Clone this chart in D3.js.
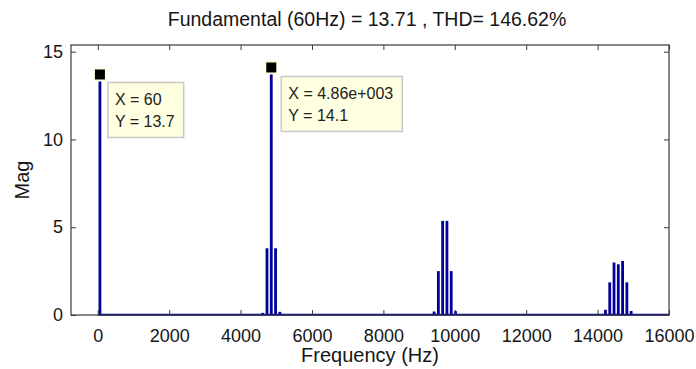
<!DOCTYPE html>
<html>
<head>
<meta charset="utf-8">
<script src="https://cdn.jsdelivr.net/npm/d3@7"></script>
<style>
  html, body { margin: 0; padding: 0; background: #fff; }
  svg { display: block; }
  text { font-family: "Liberation Sans", Arial, sans-serif; }
</style>
</head>
<body>
<svg id="chart" width="696" height="369"></svg>
<script>
// ---- data ----
const titleText = "Fundamental (60Hz) = 13.71 , THD= 146.62%";
const xLabel = "Frequency (Hz)";
const yLabel = "Mag";
const harmonicFreq = [60, 4620, 4740, 4860, 4980, 5100, 9420, 9540, 9660, 9780, 9900, 10020, 14220, 14340, 14460, 14580, 14700, 14820, 14940];
const harmonicMag  = [13.7, 0.12, 3.8, 14.1, 3.8, 0.18, 0.2, 2.5, 5.36, 5.36, 2.5, 0.22, 0.3, 1.86, 2.99, 2.89, 3.08, 1.86, 0.23];
const floorFreq = [0, 16000];
const floorMag = [0.02, 0.02];
const xTicks = [0, 2000, 4000, 6000, 8000, 10000, 12000, 14000, 16000];
const yTicks = [0, 5, 10, 15];
const tipX = [60, 4860];
const tipY = [13.7, 14.1];
const tipLines = [["X = 60", "Y = 13.7"], ["X = 4.86e+003", "Y = 14.1"]];

// ---- layout ----
const svg = d3.select("#chart");
const L = 71, R = 669, T = 45, B = 315;
const x = d3.scaleLinear().domain([-750, 16000]).range([L, R]);
const y = d3.scaleLinear().domain([0, 15.38]).range([B, T]);
const barColor = "#00009c";
const axisColor = "#3a3a3a";
const txtColor = "#161616";

// title
svg.append("text").attr("x", 367).attr("y", 26)
  .attr("text-anchor", "middle").attr("font-size", 19.5).attr("fill", txtColor)
  .text(titleText);

// baseline noise floor
svg.append("line")
  .attr("x1", x(floorFreq[0])).attr("x2", x(floorFreq[1]))
  .attr("y1", y(floorMag[0])).attr("y2", y(floorMag[1]))
  .attr("stroke", barColor).attr("stroke-width", 2);

// bars
const data = harmonicFreq.map((f, i) => ({ f, m: harmonicMag[i] }));
svg.append("g").selectAll("line").data(data).join("line")
  .attr("x1", d => x(d.f)).attr("x2", d => x(d.f))
  .attr("y1", y(0)).attr("y2", d => y(d.m))
  .attr("stroke", barColor).attr("stroke-width", 2.8);

// frame and axes
const gx = svg.append("g").attr("transform", `translate(0,${B})`)
  .call(d3.axisBottom(x).tickValues(xTicks).tickSize(-5).tickPadding(14).tickFormat(d3.format("d")));
const gxt = svg.append("g").attr("transform", `translate(0,${T})`)
  .call(d3.axisTop(x).tickValues(xTicks).tickSize(-5).tickFormat(""));
const gy = svg.append("g").attr("transform", `translate(${L},0)`)
  .call(d3.axisLeft(y).tickValues(yTicks).tickSize(-5).tickPadding(8));
const gyr = svg.append("g").attr("transform", `translate(${R},0)`)
  .call(d3.axisRight(y).tickValues(yTicks).tickSize(-5).tickFormat(""));
[gx, gxt, gy, gyr].forEach(g => {
  g.select(".domain").remove();
  g.selectAll("line").attr("stroke", axisColor);
  g.selectAll("text").attr("font-size", 18).attr("fill", txtColor)
    .attr("font-family", "'Liberation Sans', Arial, sans-serif");
});
svg.append("rect").attr("x", L).attr("y", T).attr("width", R - L).attr("height", B - T)
  .attr("fill", "none").attr("stroke", axisColor).attr("stroke-width", 1.2);

// axis labels
svg.append("text").attr("x", 370).attr("y", 362)
  .attr("text-anchor", "middle").attr("font-size", 20).attr("fill", txtColor).text(xLabel);
svg.append("text").attr("transform", `translate(29,${(T + B) / 2}) rotate(-90)`)
  .attr("text-anchor", "middle").attr("font-size", 20).attr("fill", txtColor).text(yLabel);

// data tips
const tipOffset = [[8, 8], [10, 9]];
tipX.forEach((fx, i) => {
  const mx = x(fx), my = y(tipY[i]);
  svg.append("rect").attr("x", mx - 7).attr("y", my - 7).attr("width", 14).attr("height", 14)
    .attr("fill", "#ffffe0");
  svg.append("rect").attr("x", mx - 5).attr("y", my - 5).attr("width", 10).attr("height", 10)
    .attr("fill", "#000");
  const bx = mx + tipOffset[i][0], by = my + tipOffset[i][1];
  const g = svg.append("g");
  const rect = g.append("rect").attr("x", bx).attr("y", by)
    .attr("fill", "#ffffe1").attr("stroke", "#c8c8c8").attr("stroke-width", 1.5);
  let maxW = 0;
  tipLines[i].forEach((t, j) => {
    const tx = g.append("text").attr("x", bx + 7).attr("y", by + 23 + j * 22)
      .attr("font-size", 16).attr("fill", "#222").text(t);
    maxW = Math.max(maxW, tx.node().getComputedTextLength());
  });
  rect.attr("width", maxW + 16).attr("height", 55);
});
</script>
</body>
</html>
